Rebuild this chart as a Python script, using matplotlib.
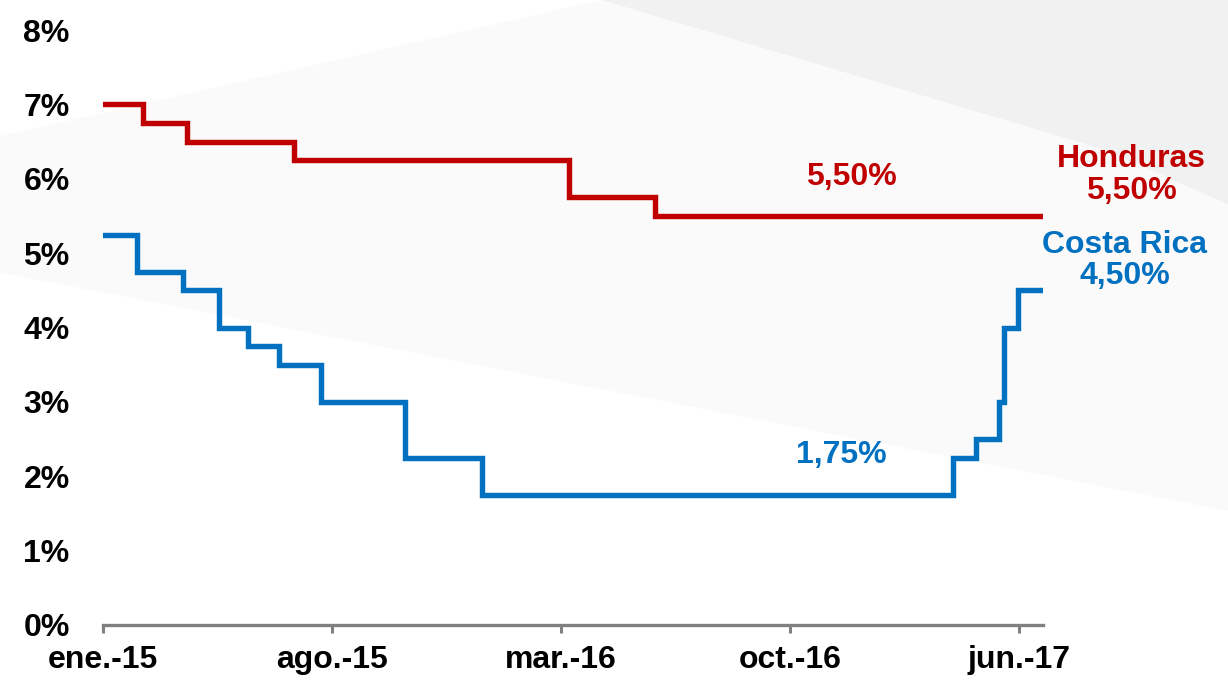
import matplotlib.pyplot as plt
from matplotlib.patches import Polygon

plt.rcParams['font.family'] = ['Liberation Sans', 'DejaVu Sans']

# meses desde ene.-15 (posicion de cada cambio de tasa) y tasa vigente
hn_mes = [0, 1.22, 2.57, 5.84, 14.25, 16.88, 28.74]
hn_tasa = [7.00, 6.75, 6.50, 6.25, 5.75, 5.50, 5.50]

cr_mes = [0, 1.04, 2.45, 3.55, 4.43, 5.38, 6.67, 9.24, 11.59,
          25.99, 26.69, 27.39, 27.55, 27.98, 28.74]
cr_tasa = [5.25, 4.75, 4.50, 4.00, 3.75, 3.50, 3.00, 2.25, 1.75,
           2.25, 2.50, 3.00, 4.00, 4.50, 4.50]

tick_mes = [0, 7, 14, 21, 28]
tick_lab = ['ene.-15', 'ago.-15', 'mar.-16', 'oct.-16', 'jun.-17']

rojo = '#C00000'
azul = '#0070C0'

fig = plt.figure(figsize=(12.28, 6.81), dpi=100)
fig.patch.set_facecolor('white')

# fondo con franjas grises suaves (en unos ejes propios, detras del grafico)
bg = fig.add_axes([0, 0, 1, 1], zorder=-10)
bg.set_xlim(0, 1)
bg.set_ylim(0, 1)
bg.axis('off')
bg.add_patch(Polygon([(0.0, 0.80), (0.49, 1.0), (0.90, 0.78), (1.0, 0.70),
                      (1.0, 0.25), (0.0, 0.60)],
                     closed=True, facecolor='#FAFAFA', edgecolor='none'))
bg.add_patch(Polygon([(0.49, 1.0), (1.0, 1.0), (1.0, 0.70), (0.90, 0.78)],
                     closed=True, facecolor='#F1F1F1', edgecolor='none'))

ax = fig.add_axes([103 / 1228, 1 - 625 / 681, 940 / 1228, 595 / 681], zorder=1)
ax.patch.set_alpha(0)

ax.step(hn_mes, hn_tasa, where='post', color=rojo, lw=3.9, solid_joinstyle='miter')
ax.step(cr_mes, cr_tasa, where='post', color=azul, lw=3.9, solid_joinstyle='miter')

ax.set_xlim(0, 28.74)
ax.set_ylim(0, 8)
ax.set_yticks(range(0, 9))
ax.set_yticklabels(['%d%%' % v for v in range(0, 9)])
ax.set_xticks(tick_mes)
ax.set_xticklabels(tick_lab)

for s in ['left', 'right', 'top']:
    ax.spines[s].set_visible(False)
ax.spines['bottom'].set_color('#808080')
ax.spines['bottom'].set_linewidth(2.4)
ax.tick_params(axis='y', length=0, pad=24, labelsize=23)
ax.tick_params(axis='x', length=5.5, width=2.2, color='#808080', pad=9,
               labelsize=23, direction='out')
for lab in ax.get_xticklabels() + ax.get_yticklabels():
    lab.set_fontweight('bold')

fnt = dict(fontsize=23, fontweight='bold', ha='center', va='center')
ax.text(22.87, hn_tasa[-1] + 0.52, '5,50%', color=rojo, **fnt)
ax.text(22.57, cr_tasa[8] + 0.53, '1,75%', color=azul, **fnt)
ax.text(31.45, 6.05, 'Honduras\n5,50%', color=rojo, clip_on=False,
        linespacing=1.05, **fnt)
ax.text(31.24, 4.90, 'Costa Rica\n4,50%', color=azul, clip_on=False,
        linespacing=1.05, **fnt)

fig.savefig('out.png', dpi=100)
